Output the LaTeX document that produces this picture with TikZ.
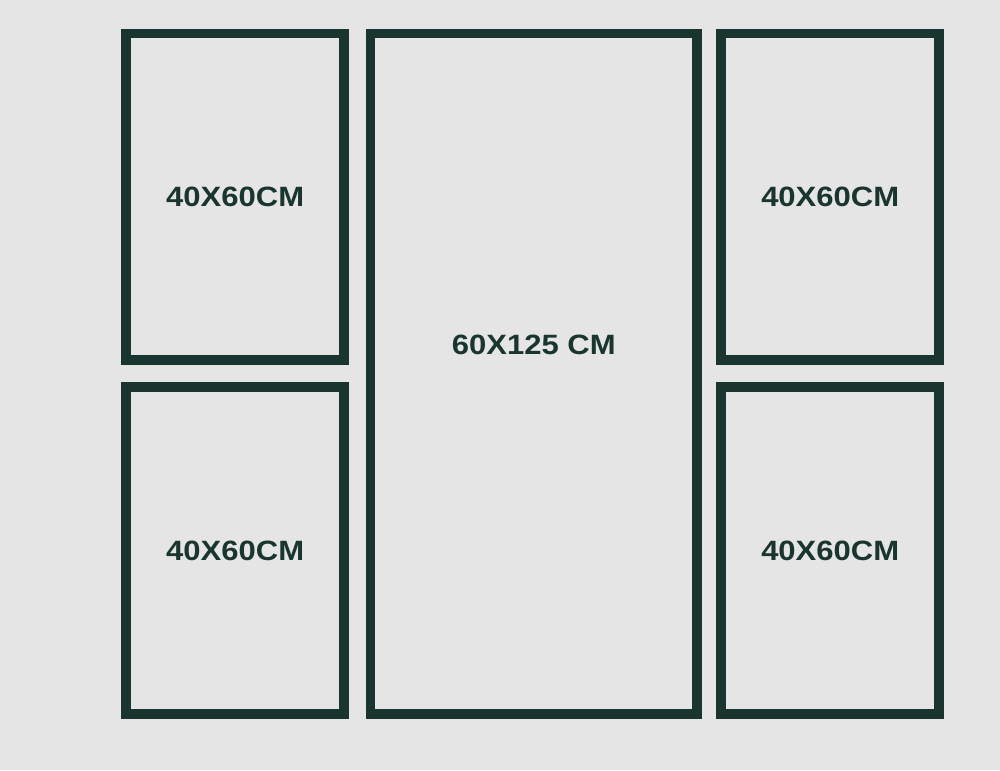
\documentclass[tikz,border=0pt]{standalone}
\usepackage{fontspec}
\newfontfamily\framefont[FakeStretch=1.11]{Liberation Sans}
\definecolor{framegreen}{RGB}{26,53,47}
\definecolor{wallgrey}{RGB}{229,229,229}
\tikzset{
  frame/.style={draw=framegreen,line width=0.192cm,rectangle,inner sep=0pt,
    text=framegreen,font=\framefont\bfseries\fontsize{15.9}{19}\selectfont},
  small/.style={frame,minimum width=4.36cm,minimum height=6.536cm},
  size/.style={text=framegreen,font=\framefont\bfseries\fontsize{15.9}{19}\selectfont}
}
\begin{document}
\begin{tikzpicture}
      \fill[wallgrey] (0,0) rectangle (20,-15.4);
      \useasboundingbox (0,0) rectangle (20,-15.4);

      \node[small] (lt) at (4.703,-3.937) {40X60CM};
      \node[small] (lb) at (4.703,-11.013) {40X60CM};
      \node[frame,minimum width=6.534cm,minimum height=13.614cm] (mid) at (10.677,-7.477) {};
      \node[small] (rt) at (16.604,-3.937) {40X60CM};
      \node[small] (rb) at (16.604,-11.013) {40X60CM};

      %% label of the big one sits above its centre
      \node[size] (midlabel) at ([yshift=0.58cm]mid.center) {60X125 CM};
\end{tikzpicture}
\end{document}
